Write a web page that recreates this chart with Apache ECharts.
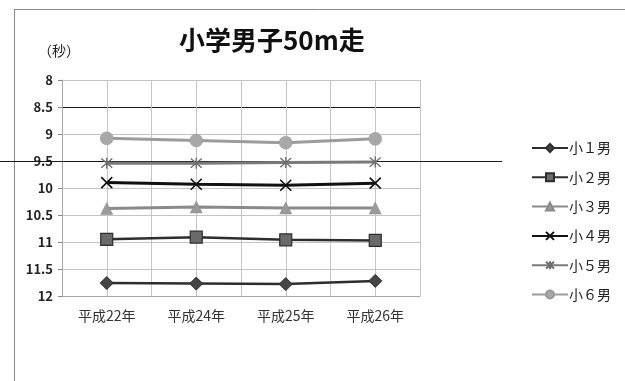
<!DOCTYPE html>
<html>
<head>
<meta charset="utf-8">
<script src="https://cdn.jsdelivr.net/npm/echarts@6/dist/echarts.min.js"></script>
<style>
  html, body { margin: 0; padding: 0; background: #fff; }
  #chart { width: 625px; height: 381px; }
</style>
</head>
<body>
<div id="chart"></div>
<script>
// 小学男子50m走 — 学年別の平均タイム（秒）
const years = ['平成22年', '平成24年', '平成25年', '平成26年'];
const seriesNames = ['小１男', '小２男', '小３男', '小４男', '小５男', '小６男'];
const grade1 = [11.76, 11.77, 11.78, 11.72];
const grade2 = [10.95, 10.91, 10.96, 10.97];
const grade3 = [10.38, 10.35, 10.37, 10.37];
const grade4 = [9.90, 9.93, 9.95, 9.91];
const grade5 = [9.54, 9.54, 9.53, 9.52];
const grade6 = [9.08, 9.12, 9.16, 9.09];
const yTicks = { min: 8, max: 12, step: 0.5 };

const FONT = '"Noto Sans CJK JP", "Noto Sans", sans-serif';
const crossPath = 'path://M0,0L10,10M10,0L0,10';
const starPath = 'path://M0,0L10,10M10,0L0,10M5,-1L5,11';

function lineSeries(name, values, color, width, symbol, size, itemStyle) {
  return {
    name, type: 'line', data: values, xAxisIndex: 0, yAxisIndex: 0,
    symbol, symbolSize: size, showAllSymbol: true,
    lineStyle: { color, width },
    itemStyle,
    emphasis: { disabled: true },
    z: 3
  };
}

const chart = echarts.init(document.getElementById('chart'), null, { renderer: 'canvas' });

// split-line colours: 8.5 and 9.5 drawn dark, the rest light grey
const splitColors = ['#c4c4c4', '#1a1a1a', '#c4c4c4', '#1a1a1a', '#c4c4c4', '#c4c4c4', '#c4c4c4', '#c4c4c4', '#c4c4c4'];

// outer frame of the sheet
const frame = [
  { type: 'line', shape: { x1: 14.5, y1: 9, x2: 14.5, y2: 381 }, style: { stroke: '#8a8a8a', lineWidth: 1 }, silent: true },
  { type: 'line', shape: { x1: 14, y1: 9.5, x2: 625, y2: 9.5 }, style: { stroke: '#8a8a8a', lineWidth: 1 }, silent: true }
];

chart.setOption({
  animation: false,
  backgroundColor: '#fff',
  textStyle: { fontFamily: FONT },
  title: [
    { text: '小学男子50m走', left: 174, top: 22,
      textStyle: { fontFamily: FONT, fontSize: 26, fontWeight: 'bold', color: '#111' } },
    { text: '（秒）', left: 33, top: 39,
      textStyle: { fontFamily: FONT, fontSize: 14, fontWeight: 'normal', color: '#222' } }
  ],
  grid: { left: 62, right: 205, top: 80, bottom: 85 },
  legend: {
    orient: 'vertical', left: 526, top: 136,
    itemWidth: 36, itemHeight: 10, itemGap: 15.3,
    textStyle: { fontFamily: FONT, fontSize: 14, color: '#222', padding: [0, 0, 0, -4] },
    data: seriesNames
  },
  xAxis: [
    {
      type: 'category', data: years, boundaryGap: true,
      axisLine: { show: true, lineStyle: { color: '#a8a8a8', width: 1 } },
      axisTick: { show: false },
      splitLine: { show: true, lineStyle: { color: '#c4c4c4', width: 1 } },
      axisLabel: { fontFamily: FONT, fontSize: 14, color: '#333', margin: 13 }
    },
    {
      // half-category grid: lines at every category centre too
      type: 'value', min: 0, max: 8, interval: 1, position: 'bottom',
      axisLine: { show: false }, axisTick: { show: false }, axisLabel: { show: false },
      splitLine: { show: true, lineStyle: { color: '#c4c4c4', width: 1 } }
    }
  ],
  yAxis: {
    type: 'value', inverse: true,
    min: yTicks.min, max: yTicks.max, interval: yTicks.step,
    axisLine: { show: true, lineStyle: { color: '#a8a8a8' } },
    axisTick: { show: true, length: 4, lineStyle: { color: '#888' } },
    axisLabel: { fontFamily: FONT, fontSize: 13, fontWeight: 'bold', color: '#222', margin: 9 },
    splitLine: { show: true, lineStyle: { color: splitColors, width: 1 } }
  },
  graphic: frame,
  series: [
    lineSeries(seriesNames[0], grade1, '#2e2e2e', 2.5, 'diamond', 13,
      { color: '#454545', borderColor: '#2e2e2e', borderWidth: 1 }),
    lineSeries(seriesNames[1], grade2, '#2e2e2e', 2.5, 'rect', 12,
      { color: '#6a6a6a', borderColor: '#2e2e2e', borderWidth: 1.2 }),
    lineSeries(seriesNames[2], grade3, '#8a8a8a', 3, 'triangle', 12,
      { color: '#9a9a9a', borderColor: '#8a8a8a', borderWidth: 0.5 }),
    lineSeries(seriesNames[3], grade4, '#111111', 3, crossPath, 11,
      { color: 'none', borderColor: '#111', borderWidth: 1.6 }),
    lineSeries(seriesNames[4], grade5, '#7a7a7a', 3, starPath, 11,
      { color: 'none', borderColor: '#6e6e6e', borderWidth: 1.4 }),
    lineSeries(seriesNames[5], grade6, '#9c9c9c', 3, 'circle', 13,
      { color: '#a8a8a8', borderColor: '#9a9a9a', borderWidth: 0.5 })
  ]
});

// dark rule at 9.5 s that runs from the page edge past the plot
const yRule = Math.round(chart.convertToPixel({ yAxisIndex: 0 }, 9.5)) + 0.5;
chart.setOption({
  graphic: frame.concat([
    { type: 'line', shape: { x1: 0, y1: yRule, x2: 502, y2: yRule },
      style: { stroke: '#1a1a1a', lineWidth: 1 }, silent: true, z: 1 }
  ])
});
</script>
</body>
</html>
